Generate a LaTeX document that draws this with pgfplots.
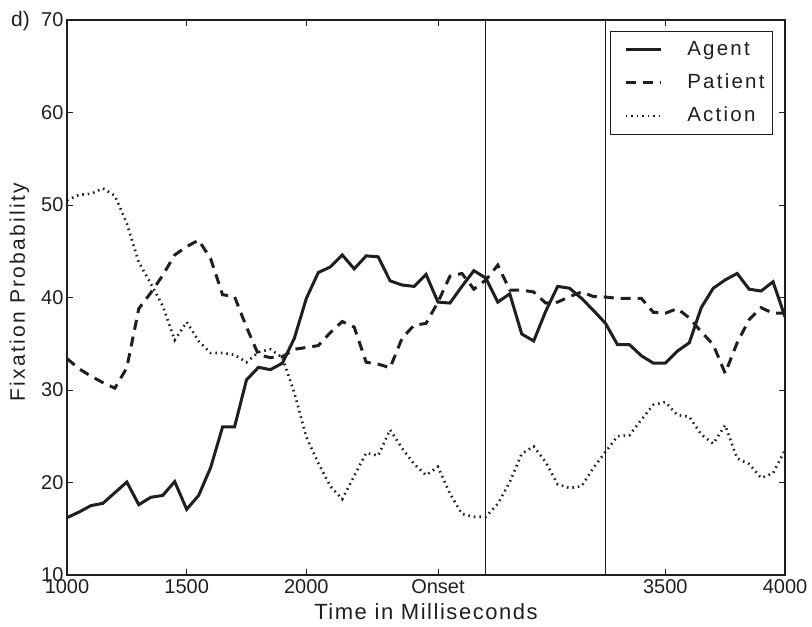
\documentclass[border=0pt]{standalone}
\usepackage{fontspec}
\setmainfont{Liberation Sans}
\newfontfamily\spaced[LetterSpace=11]{Liberation Sans}
\newfontfamily\xspaced[LetterSpace=7]{Liberation Sans}
\usepackage{pgfplots}
\usepackage{pgfplotstable}
\pgfplotsset{compat=1.18}
\definecolor{ink}{gray}{0.12}

\pgfplotstableread{
t agent patient action
1000 16.2 33.4 50.5
1050 16.8 32.3 51.1
1100 17.5 31.5 51.2
1150 17.75 30.8 51.8
1200 18.9 30.2 51.0
1250 20.05 32.4 48.0
1300 17.6 38.8 43.8
1350 18.4 40.5 41.5
1400 18.6 42.4 39.1
1450 20.1 44.6 35.4
1500 17.1 45.5 37.35
1550 18.6 46.2 35.3
1600 21.6 44.2 34.0
1650 26.0 40.3 34.0
1700 26.0 40.1 33.8
1750 31.1 36.8 33.0
1800 32.45 33.8 34.1
1850 32.2 33.5 34.4
1900 32.9 33.6 33.5
1950 35.6 34.4 29.7
2000 39.9 34.6 24.9
2050 42.7 34.8 22.1
2100 43.3 36.2 19.6
2150 44.6 37.4 18.2
2200 43.1 36.8 20.7
2250 44.5 33.0 23.2
2300 44.4 32.8 22.9
2350 41.8 32.4 25.7
2400 41.35 35.6 23.7
2450 41.2 37.0 22.0
2500 42.5 37.2 20.8
2550 39.5 39.5 21.7
2600 39.4 42.3 18.8
2650 41.2 42.6 16.6
2700 42.9 40.9 16.3
2750 42.1 41.9 16.3
2800 39.5 43.5 17.7
2850 40.4 40.8 20.05
2900 36.05 40.8 23.1
2950 35.3 40.6 23.9
3000 38.5 39.4 22.2
3050 41.2 39.5 19.8
3100 41.0 40.1 19.4
3150 39.9 40.6 19.6
3200 38.6 40.1 21.6
3250 37.2 40.05 23.3
3300 34.9 39.9 25.0
3350 34.9 39.9 25.1
3400 33.7 39.9 26.8
3450 32.9 38.4 28.4
3500 32.9 38.3 28.7
3550 34.2 38.8 27.3
3600 35.1 37.8 27.1
3650 38.9 36.3 25.2
3700 41.0 34.9 24.2
3750 41.9 31.8 26.2
3800 42.6 35.1 22.6
3850 40.9 37.6 22.0
3900 40.7 38.9 20.5
3950 41.7 38.3 21.0
4000 37.9 38.3 23.5
}\datatable

\begin{document}
\begin{tikzpicture}
\begin{axis}[
  width=718pt, height=555pt, scale only axis,
  xmin=1000, xmax=4000, ymin=10, ymax=70,
  xtick={1000,1500,2000,2550,3500,4000},
  xticklabels={1000,1500,2000,Onset,3500,4000},
  ytick={10,20,30,40,50,60,70},
  tick align=inside,
  major tick length=6pt,
  tick style={ink, line width=0.8pt},
  axis line style={ink, line width=1.3pt},
  /pgf/number format/assume math mode=true,
  xticklabel style={font=\fontsize{20}{20}\selectfont, text=ink, yshift=-1pt},
  yticklabel style={font=\fontsize{20}{20}\selectfont, text=ink},
  xlabel={\xspaced Time in Milliseconds},
  xlabel style={font=\fontsize{22}{22}\selectfont, text=ink, at={([yshift=-45pt]axis description cs:0.5,0)}, anchor=base},
  ylabel={\spaced Fixation Probability},
  ylabel style={font=\fontsize{21}{21}\selectfont, text=ink, at={([xshift=-42pt]axis description cs:0,0.51)}, anchor=base},
  legend cell align=left,
  legend style={at={(rel axis cs:1,1)}, anchor=north east, xshift=-12pt, yshift=-11pt,
    draw=ink, line width=0.8pt, inner xsep=8pt, inner ysep=9pt,
    column sep=25pt, row sep=14pt,
    font=\spaced\fontsize{20.5}{20.5}\selectfont, text=ink,
    nodes={inner sep=0pt, text height=15pt, text depth=4pt}},
  legend image code/.code={\path[draw=none, fill=none] (-7pt,-1pt) rectangle (0pt,1pt); \draw[#1] (0pt,0pt) -- (35pt,0pt);},
]
\addplot[ink, line width=3pt, solid] table[x=t, y=agent] {\datatable};
\addlegendentry{Agent}
\addplot[ink, line width=3pt, dash pattern=on 10pt off 7pt] table[x=t, y=patient] {\datatable};
\addlegendentry{Patient}
\addplot[ink, line width=2.6pt, dash pattern=on 1.6pt off 3.9pt] table[x=t, y=action] {\datatable};
\addlegendentry{Action}
\addplot[ink, line width=0.9pt, forget plot] coordinates {(2750,10) (2750,70)};
\addplot[ink, line width=0.9pt, forget plot] coordinates {(3250,10) (3250,70)};
\path (rel axis cs:0,1) coordinate (tl);
\path ([shift={(-67pt,-52pt)}]rel axis cs:0,0) coordinate (bl);
\path ([shift={(27pt,20pt)}]rel axis cs:1,1) coordinate (tr);
\end{axis}
\node[anchor=east, font=\fontsize{21}{21}\selectfont, text=ink, inner sep=0pt] at ([xshift=-37pt,yshift=-1pt]tl) {d)};
\path (bl) rectangle (tr);
\end{tikzpicture}
\end{document}
